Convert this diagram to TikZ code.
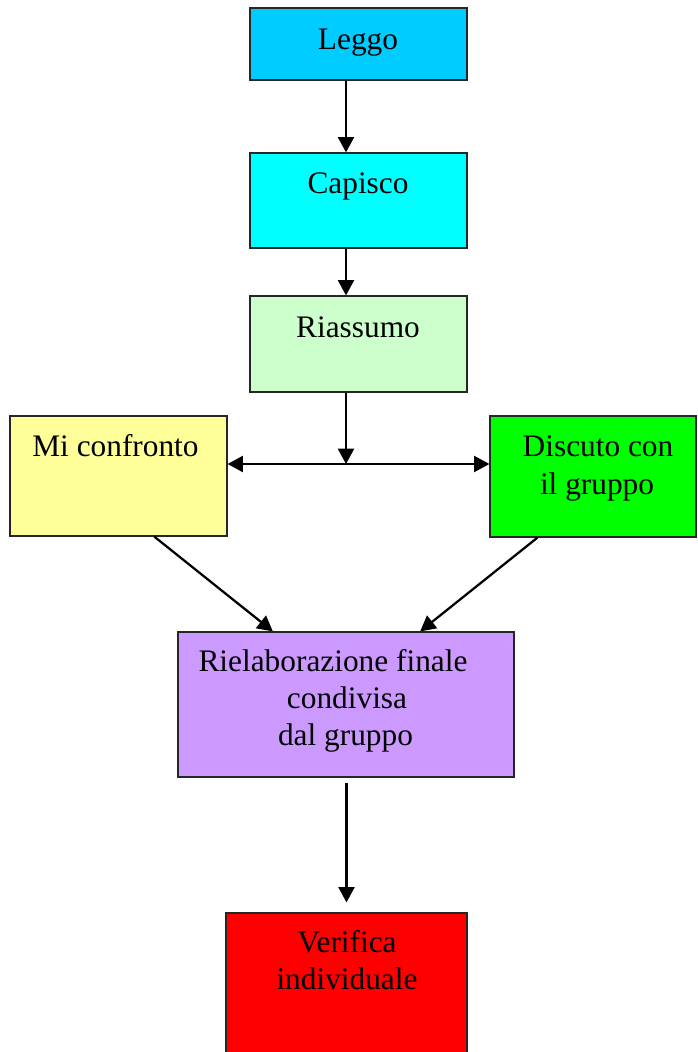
\documentclass[tikz,border=0pt]{standalone}
\usepackage{fontspec}
\setmainfont{Liberation Serif}
\usetikzlibrary{fit,calc,arrows.meta}
\definecolor{cLeggo}{HTML}{00CCFF}
\definecolor{cCapisco}{HTML}{00FFFF}
\definecolor{cRiass}{HTML}{CCFFCC}
\definecolor{cConfr}{HTML}{FFFF99}
\definecolor{cDisc}{HTML}{00FF00}
\definecolor{cRiel}{HTML}{CC99FF}
\definecolor{cVer}{HTML}{FF0000}
\begin{document}
\begin{tikzpicture}[x=0.75pt,y=-0.75pt,
  box/.style={draw=black!85,line width=0.9pt,inner sep=0pt,rectangle},
  lbl/.style={anchor=base,inner sep=0pt,font=\fontsize{23.5}{28}\selectfont},
  arr/.style={line width=1.7pt,-{Triangle[length=11.5pt,width=12pt]}}]
\clip (0,0) rectangle (697,1052);
\useasboundingbox (0,0) rectangle (697,1052);
% boxes
\node[box,fill=cLeggo,fit={(250,8)(467,80)}] (leggo) {};
\node[box,fill=cCapisco,fit={(250,153)(467,248)}] (capisco) {};
\node[box,fill=cRiass,fit={(250,296)(467,392)}] (riass) {};
\node[box,fill=cConfr,fit={(10,416)(227,536)}] (confr) {};
\node[box,fill=cDisc,fit={(490,416)(696,537)}] (disc) {};
\node[box,fill=cRiel,fit={(178,632)(514,777)}] (riel) {};
\node[box,fill=cVer,fit={(226,913)(467,1060)}] (ver) {};
% texts
\node[lbl] (t1) at (358,50) {Leggo};
\node[lbl] (t2) at (358,193) {Capisco};
\node[lbl] (t3) at (358,337) {Riassumo};
\node[lbl] (t4) at (115.5,456) {Mi confronto};
\node[lbl] (t5a) at (598,456) {Discuto con};
\node[lbl] (t5b) at (597,494) {il gruppo};
\node[lbl] (t6a) at (333,671) {Rielaborazione finale};
\node[lbl] (t6b) at (347,708) {condivisa};
\node[lbl] (t6c) at (345.5,745) {dal gruppo};
\node[lbl] (t7a) at (347,952) {Verifica};
\node[lbl] (t7b) at (347,989) {individuale};
% junction
\coordinate (j) at (346,464);
% connectors
\draw[arr] (leggo.south -| j) -- (capisco.north -| j);
\draw[arr] (capisco.south -| j) -- (riass.north -| j);
\draw[arr] (riass.south -| j) -- (j);
\draw[arr] (j) -- (j -| confr.east);
\draw[arr] (j) -- (j -| disc.west);
\draw[arr] ($(confr.south west)!0.664!(confr.south east)$) -- ($(riel.north west)!0.283!(riel.north east)$);
\draw[arr] ($(disc.south west)!0.232!(disc.south east)$) -- ($(riel.north west)!0.72!(riel.north east)$);
\draw[arr,shorten <=3.75pt,shorten >=7.5pt] (riel.south -| ver.north) -- (ver.north);
\end{tikzpicture}
\end{document}
